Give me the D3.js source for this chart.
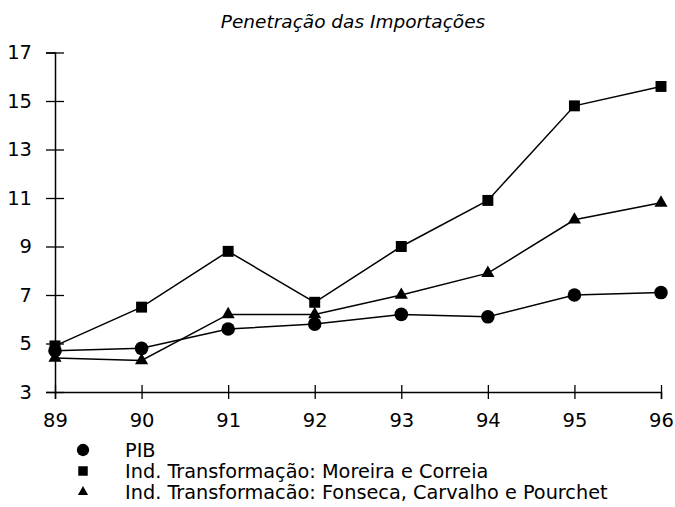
<!DOCTYPE html>
<html>
<head>
<meta charset="utf-8">
<script src="https://cdn.jsdelivr.net/npm/d3@7"></script>
<style>
body{margin:0;background:#fff;}
text{font-family:"DejaVu Sans",sans-serif;fill:#000;}
</style>
</head>
<body>
<svg id="chart" width="675" height="507"></svg>
<script>
var years=[89,90,91,92,93,94,95,96];
var pib=[4.7,4.8,5.6,5.8,6.2,6.1,7.0,7.1];
var moreira=[4.9,6.5,8.8,6.7,9.0,10.9,14.8,15.6];
var fonseca=[4.4,4.3,6.2,6.2,7.0,7.9,10.1,10.8];
var yTicks=[3,5,7,9,11,13,15,17];
var title="Penetração das Importações";
var legendLabels=["PIB","Ind. Transformação: Moreira e Correia","Ind. Transformacão: Fonseca, Carvalho e Pourchet"];

var svg=d3.select("#chart");
var x=d3.scaleLinear().domain([89,96]).range([55,661]);
var y=d3.scaleLinear().domain([3,17]).range([392,52.5]);

svg.append("text")
	.attr("x",353).attr("y",28)
	.attr("text-anchor","middle")
	.style("font-style","italic")
	.style("font-size","18.5px")
	.text(title);

// eixo x
var gx=svg.append("g")
	.attr("transform","translate(0,392)")
	.call(d3.axisBottom(x).tickValues(years).tickSize(7).tickPadding(14).tickFormat(d3.format("d")));
gx.select(".domain").attr("stroke","#000").attr("stroke-width",1.5);
gx.selectAll(".tick line").attr("y1",-7).attr("y2",7).attr("stroke-width",1.3);
gx.selectAll(".tick text").style("font-size","19.5px").attr("font-family",null);

// eixo y
var gy=svg.append("g")
	.attr("transform","translate(55,0)")
	.call(d3.axisLeft(y).tickValues(yTicks).tickSize(9).tickPadding(14));
gy.select(".domain").attr("stroke","#000").attr("stroke-width",1.5);
gy.selectAll(".tick line").attr("x1",-9).attr("x2",9).attr("stroke-width",1.3);
gy.selectAll(".tick text").style("font-size","19.5px").attr("font-family",null);

var series=[
	{vals:pib,shape:d3.symbolCircle,size:145},
	{vals:moreira,shape:d3.symbolSquare,size:120},
	{vals:fonseca,shape:d3.symbolTriangle,size:75}
];
var line=d3.line().x(function(d,i){return x(years[i]);}).y(function(d){return y(d);});

series.forEach(function(s){
	svg.append("path")
		.attr("d",line(s.vals))
		.attr("fill","none")
		.attr("stroke","#000")
		.attr("stroke-width",1.5);
	svg.selectAll(null)
		.data(s.vals)
		.enter()
		.append("path")
		.attr("d",d3.symbol().type(s.shape).size(s.size))
		.attr("transform",function(d,i){return "translate("+x(years[i])+","+y(d)+")";})
		.attr("fill","#000");
});

// legenda
var legendSizes=[120,90,45];
var lg=svg.selectAll(".leg")
	.data(legendLabels)
	.enter()
	.append("g")
	.attr("transform",function(d,i){return "translate(83,"+(450+i*21)+")";});
lg.append("path")
	.attr("d",function(d,i){return d3.symbol().type(series[i].shape).size(legendSizes[i])();})
	.attr("fill","#000");
lg.append("text")
	.attr("x",42).attr("y",6.5)
	.style("font-size","19.3px")
	.text(function(d){return d;});
</script>
</body>
</html>
